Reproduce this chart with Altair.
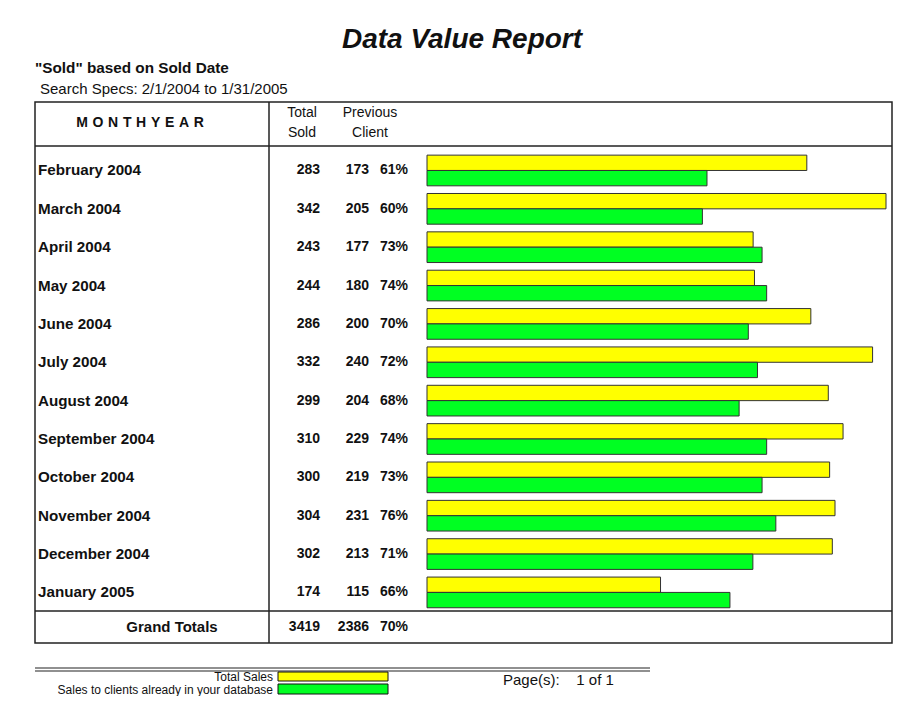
import altair as alt
import pandas as pd

# ---- data ----
months = ["February 2004", "March 2004", "April 2004", "May 2004", "June 2004",
          "July 2004", "August 2004", "September 2004", "October 2004",
          "November 2004", "December 2004", "January 2005"]
total_sold = [283, 342, 243, 244, 286, 332, 299, 310, 300, 304, 302, 174]
previous_client = [173, 205, 177, 180, 200, 240, 204, 229, 219, 231, 213, 115]
previous_pct = [61, 60, 73, 74, 70, 72, 68, 74, 73, 76, 71, 66]
grand_totals = [3419, 2386, 70]
series_names = ["Total Sales", "Sales to clients already in your database"]
series_colors = ["#FFFF00", "#00FF22"]

FONT = "Liberation Sans"
INK = "#111111"
LINE = "#222222"
NB = "\u00a0"

n = len(months)
max_total = max(total_sold)
rows = pd.DataFrame({
    "month": months,
    "total": total_sold,
    "prev": previous_client,
    "pct_label": [f"{p}%" for p in previous_pct],
    "rc": [i + 0.5 for i in range(n)],
})

bars = pd.DataFrame({
    "series": [series_names[0]] * n + [series_names[1]] * n,
    "start": [0] * (2 * n),
    "value": [t / max_total * 100 for t in total_sold] + previous_pct,
    "y0": [i + 0.1 for i in range(n)] + [i + 0.5 for i in range(n)],
    "y1": [i + 0.5 for i in range(n)] + [i + 0.9 for i in range(n)],
})

one = pd.DataFrame({"k": [0]})

xscale = alt.Scale(domain=[0, 100], range=[419, 878])
yscale = alt.Scale(domain=[0, n], range=[143.3, 603.6])
cscale = alt.Scale(domain=series_names, range=series_colors)


def txt(s, x, y, size=14, bold=False, italic=False, align="left"):
    return alt.Chart(one).mark_text(
        text=s, font=FONT, fontSize=size,
        fontWeight="bold" if bold else "normal",
        fontStyle="italic" if italic else "normal",
        align=align, baseline="middle", color=INK,
    ).encode(x=alt.value(x), y=alt.value(y))


def rule(x, x2, y, y2, w=1.5):
    return alt.Chart(one).mark_rule(color=LINE, strokeWidth=w).encode(
        x=alt.value(x), x2=alt.value(x2), y=alt.value(y), y2=alt.value(y2))


def box(x, x2, y, y2, fill=None, stroke=LINE, w=1.5):
    if fill is None:
        m = alt.Chart(one).mark_rect(filled=False, stroke=stroke, strokeWidth=w)
    else:
        m = alt.Chart(one).mark_rect(fill=fill, stroke=stroke, strokeWidth=w)
    return m.encode(x=alt.value(x), x2=alt.value(x2), y=alt.value(y), y2=alt.value(y2))


layers = []

# titles
layers.append(txt("Data Value Report", 454, 32, size=28, bold=True, italic=True, align="center"))
layers.append(txt('"Sold" based on Sold Date', 27, 60, size=15.3, bold=True))
layers.append(txt("Search Specs: 2/1/2004 to 1/31/2005", 32, 81, size=15))

# table frame
layers.append(box(27, 884, 94, 635))
layers.append(rule(27, 884, 138, 138))
layers.append(rule(27, 884, 603, 603))
layers.append(rule(261, 261, 94, 635))

# headers
layers.append(txt("\u2004".join("MONTHYEAR"), 132, 115, size=14, bold=True, align="center"))
layers.append(txt("Total", 294, 105, align="center"))
layers.append(txt("Sold", 294, 125, align="center"))
layers.append(txt("Previous", 362, 105, align="center"))
layers.append(txt("Client", 362, 125, align="center"))

# bars
layers.append(alt.Chart(bars).mark_rect(stroke="#333333", strokeWidth=1).encode(
    x=alt.X("start:Q", scale=xscale, axis=None),
    x2=alt.X2("value:Q"),
    y=alt.Y("y0:Q", scale=yscale, axis=None),
    y2=alt.Y2("y1:Q"),
    color=alt.Color("series:N", scale=cscale, legend=None),
))

# row texts
base = alt.Chart(rows).encode(y=alt.Y("rc:Q", scale=yscale, axis=None))
tstyle = dict(font=FONT, fontWeight="bold", baseline="middle", color=INK)
layers.append(base.mark_text(align="left", fontSize=15.2, **tstyle).encode(x=alt.value(30), text="month:N"))
layers.append(base.mark_text(align="right", fontSize=14, **tstyle).encode(x=alt.value(312), text="total:Q"))
layers.append(base.mark_text(align="right", fontSize=14, **tstyle).encode(x=alt.value(361), text="prev:Q"))
layers.append(base.mark_text(align="right", fontSize=14, **tstyle).encode(x=alt.value(400), text="pct_label:N"))

# grand totals
layers.append(txt("Grand Totals", 164, 619, size=15, bold=True, align="center"))
layers.append(txt(str(grand_totals[0]), 312, 619, bold=True, align="right"))
layers.append(txt(str(grand_totals[1]), 361, 619, bold=True, align="right"))
layers.append(txt(f"{grand_totals[2]}%", 400, 619, bold=True, align="right"))

# footer
layers.append(rule(27, 642, 660, 660, w=1.2))
layers.append(rule(27, 642, 663, 663, w=1.2))
layers.append(txt(series_names[0], 265, 668.5, size=12, align="right"))
layers.append(txt(series_names[1], 265, 681.5, size=12, align="right"))
layers.append(box(270, 380, 664, 673, fill=series_colors[0], stroke="#111111", w=1))
layers.append(box(270, 380, 676, 686, fill=series_colors[1], stroke="#111111", w=1))
layers.append(txt("Page(s):" + NB * 4 + "1 of 1", 495, 672, size=15))

chart = alt.layer(*layers).properties(
    width=899, height=688, padding=0,
    autosize=alt.AutoSizeParams(type="none"),
).configure_view(stroke=None)

chart.save("out.html", embed_options={"renderer": "svg", "actions": False})
